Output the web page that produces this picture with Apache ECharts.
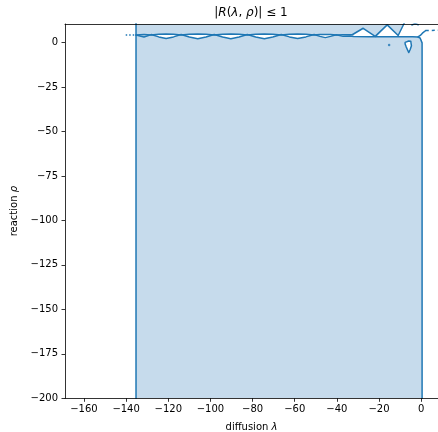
<!DOCTYPE html>
<html><head><meta charset="utf-8">
<script src="https://cdn.jsdelivr.net/npm/echarts@6/dist/echarts.min.js"></script>
<style>html,body{margin:0;padding:0;background:#fff;overflow:hidden}#c{width:438px;height:432px}</style>
</head><body><div id="c"></div>
<script>
// ---- axis ticks ----
const xTicks = [-160, -140, -120, -100, -80, -60, -40, -20, 0];
const yTicks = [-200, -175, -150, -125, -100, -75, -50, -25, 0];

// ---- contour |R| = 1 (data units) ----
// left vertical boundary
const leftEdgeX = [-135.3, -135.3];
const leftEdgeY = [-200, 11];
// lower wavy boundary (bottom of the unstable lenses)
const waveX = [-135.3, -134.8, -131.5, -128.1, -124.5, -121.0, -117.5, -113.9, -110.0, -106.0, -102.1, -98.2, -94.2, -90.3, -86.4, -82.5, -78.5, -74.4, -70.4, -66.4, -62.5, -58.6, -54.7, -50.8, -48.0, -45.5, -43.0, -40.3, -37.0, -33.7];
const waveY = [4.25, 4.45, 3.05, 4.45, 3.15, 2.25, 3.15, 4.45, 3.05, 2.15, 3.05, 4.45, 3.05, 2.15, 3.05, 4.45, 3.05, 2.15, 3.05, 4.45, 3.15, 2.25, 3.15, 4.45, 3.45, 2.75, 3.45, 4.35, 3.45, 3.65];
// baseline to the right and the right vertical boundary
const baseX = [-32.0, -25.0, -18.0, -10.0, -4.0, -1.5, -0.5, 0.2, 0.45, 0.45];
const baseY = [3.35, 3.3, 3.25, 3.25, 3.2, 3.05, 2.55, 1.55, -0.2, -200];
// upper (nearly flat) boundary of the lenses
const upperX = [-135.3, -134.8, -131.5, -128.1, -124.5, -121.0, -117.5, -113.9, -110.0, -106.0, -102.1, -98.2, -94.2, -90.3, -86.4, -82.5, -78.5, -74.4, -70.4, -66.4, -62.5, -58.6, -54.7, -50.8, -48.0, -45.5, -43.0, -40.3, -37.0, -33.7];
const upperY = [4.15, 4.15, 4.45, 4.15, 4.6, 4.75, 4.6, 4.15, 4.6, 4.75, 4.6, 4.15, 4.6, 4.75, 4.6, 4.15, 4.6, 4.75, 4.6, 4.15, 4.6, 4.75, 4.6, 4.15, 4.45, 4.55, 4.45, 4.15, 4.35, 4.35];
// the two peaks on the right
const peakX = [-32.7, -27.5, -21.8, -20.9, -16.1, -10.9, -8.1];
const peakY = [4.35, 8.0, 3.45, 3.45, 9.9, 3.95, 10.7];
// branch leaving the corner to the right
const branchX = [-1.5, -0.4, 0.6, 1.4, 2.2];
const branchY = [3.15, 3.95, 5.25, 6.35, 6.75];
const tailX = [2.2, 8.0];
const tailY = [6.75, 6.85];
// stray dashed piece left of the region
const strayX = [-140.2, -136.0];
const strayY = [4.15, 4.15];
// small arc at the top right
const arcX = [-4.4, -3.4, -2.3, -1.4];
const arcY = [9.85, 10.35, 10.35, 9.95];
// teardrop island
const dropX = [-7.6, -6.9, -5.9, -4.9, -4.4, -4.6, -5.2, -5.9, -6.5, -7.1, -7.6, -7.6];
const dropY = [0.05, 0.75, 0.85, 0.65, -0.25, -1.85, -3.95, -5.65, -4.65, -2.45, -0.85, 0.05];
// isolated point
const dotX = [-15.2];
const dotY = [-1.45];

const zip = (xs, ys) => xs.map((x, i) => [x, ys[i]]);
const blue = '#1f77b4';
const fill = '#c6dbec';

const wavePts = zip(waveX, waveY);
const basePts = zip(baseX, baseY);
const upperPts = zip(upperX, upperY);
const peakPts = zip(peakX, peakY);

const lowerPoly = [[-135.3, -200]].concat(wavePts, basePts);
const upperPoly = [[-135.3, 11], [-16.2, 11]].concat(upperPts.concat(peakPts.slice(0, 5)).reverse());
const vPoly = peakPts.slice(4).concat([[-16.0, 11]]);
const dropPts = zip(dropX, dropY);

function poly(pts, color, z) {
  return {
    type: 'custom', coordinateSystem: 'cartesian2d', clip: true, silent: true, z: z,
    data: [[0, 0]],
    renderItem: (params, api) => ({
      type: 'polygon',
      shape: { points: pts.map(p => api.coord(p)) },
      style: { fill: color, stroke: null, lineWidth: 0 }
    })
  };
}
function line(pts, extra) {
  return Object.assign({
    type: 'line', data: pts, showSymbol: false, symbol: 'none', silent: true, z: 4, clip: true,
    lineStyle: { color: blue, width: 1.5, cap: 'round', join: 'round' }
  }, extra || {});
}

const minus = v => String(v).replace('-', '\u2212');
const font = 'DejaVu Sans';

const chart = echarts.init(document.getElementById('c'), null, { renderer: 'canvas', width: 438, height: 432 });
chart.setOption({
  animation: false,
  backgroundColor: '#fff',
  grid: { left: 65, width: 373, top: 24, height: 374.3, containLabel: false, outerBoundsMode: 'none' },
  xAxis: [{
    type: 'value', min: -169, max: 8, position: 'bottom', z: 10,
    axisLine: { show: true, onZero: false, lineStyle: { color: '#000', width: 0.8 } },
    axisTick: { show: true, inside: false, length: 3.5, customValues: xTicks, lineStyle: { color: '#000', width: 0.8 } },
    axisLabel: { customValues: xTicks, formatter: minus, fontSize: 10, fontFamily: font, color: '#000', margin: 6 },
    splitLine: { show: false },
    name: 'diffusion {i|λ}', nameLocation: 'middle', nameGap: 24,
    nameTextStyle: { fontSize: 10, fontFamily: font, color: '#000',
      rich: { i: { fontStyle: 'italic', fontSize: 10, fontFamily: font, color: '#000' } } }
  }, {
    type: 'value', min: -169, max: 8, position: 'top', z: 10,
    axisLine: { show: true, onZero: false, lineStyle: { color: '#000', width: 0.8 } },
    axisTick: { show: false }, axisLabel: { show: false }, splitLine: { show: false }
  }],
  yAxis: [{
    type: 'value', min: -200, max: 10.4, z: 10,
    axisLine: { show: true, onZero: false, lineStyle: { color: '#000', width: 0.8 } },
    axisTick: { show: true, inside: false, length: 3.5, customValues: yTicks, lineStyle: { color: '#000', width: 0.8 } },
    axisLabel: { customValues: yTicks, formatter: minus, fontSize: 10, fontFamily: font, color: '#000', margin: 7 },
    splitLine: { show: false },
    name: 'reaction {i|ρ}', nameLocation: 'middle', nameGap: 44,
    nameTextStyle: { fontSize: 10, fontFamily: font, color: '#000',
      rich: { i: { fontStyle: 'italic', fontSize: 10, fontFamily: font, color: '#000' } } }
  }],
  graphic: [{
    type: 'text', x: 251, y: 13, z: 20,
    style: {
      text: '{n||}{i|R}{n|(}{i|λ}{n|, }{i|ρ}{n|)| ≤ 1}',
      align: 'center', verticalAlign: 'middle',
      fontSize: 12, fontFamily: font, fill: '#000',
      rich: {
        n: { fontSize: 12, fontFamily: font, color: '#000' },
        i: { fontSize: 12, fontFamily: font, color: '#000', fontStyle: 'italic' }
      }
    }
  }],
  series: [
    poly(lowerPoly, fill, 1),
    poly(upperPoly, fill, 1),
    poly(vPoly, fill, 1),
    poly(dropPts, '#ffffff', 2),
    line(zip(leftEdgeX, leftEdgeY)),
    line(wavePts.concat(basePts)),
    line(upperPts.concat(peakPts)),
    line(zip(branchX, branchY)),
    line(zip(tailX, tailY), { lineStyle: { color: blue, width: 1.5, type: [3, 3] } }),
    line(zip(strayX, strayY), { lineStyle: { color: blue, width: 1.5, type: [1.5, 2] } }),
    line(zip(arcX, arcY)),
    line(dropPts),
    { type: 'scatter', data: zip(dotX, dotY), symbol: 'circle', symbolSize: 2.5, itemStyle: { color: blue }, silent: true, z: 4 }
  ]
});
</script>
</body></html>
